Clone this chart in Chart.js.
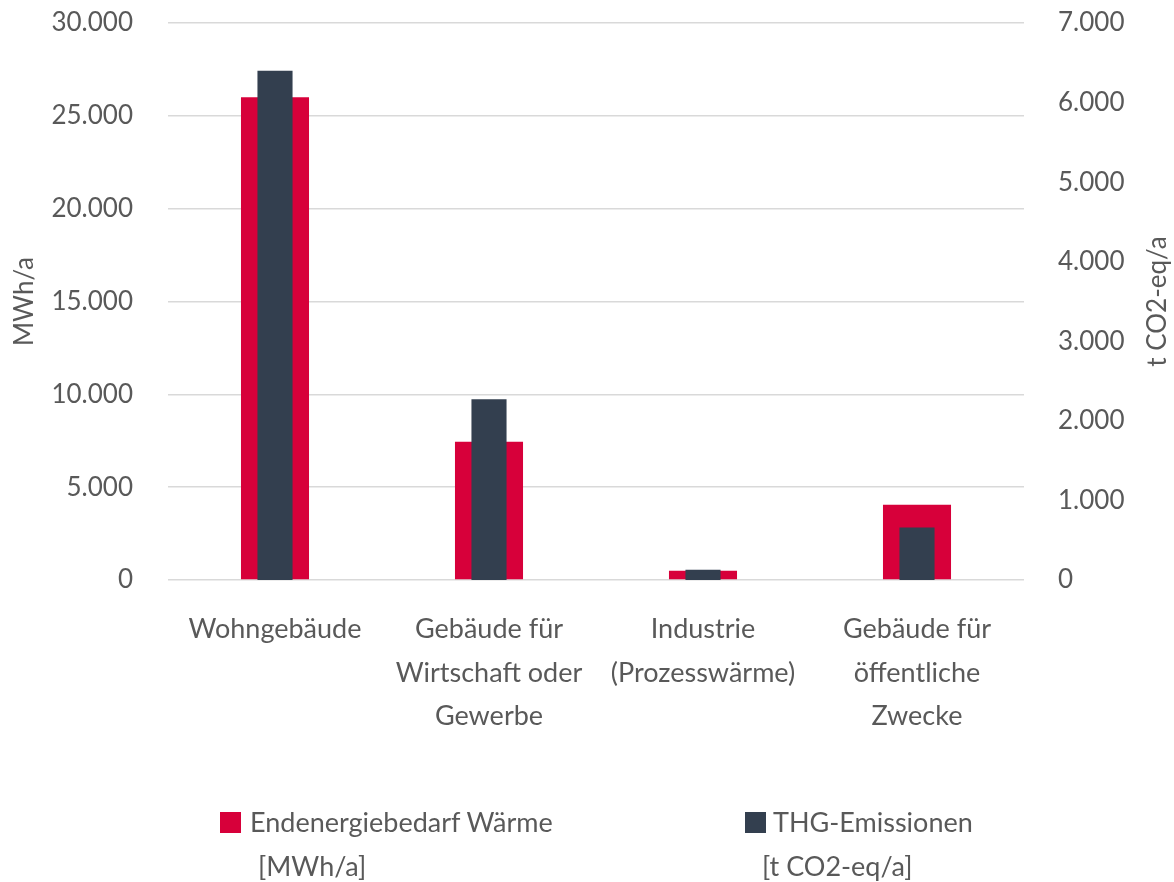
<!DOCTYPE html>
<html lang="de">
<head>
<meta charset="utf-8">
<script src="https://cdn.jsdelivr.net/npm/chart.js@4/dist/chart.umd.min.js"></script>
<style>
  html, body { margin: 0; padding: 0; background: #fff; }
  #wrap { position: relative; width: 1174px; height: 882px; }
  canvas { position: absolute; left: 0; top: 0; }
  .lg { position: absolute; font-family: Lato, sans-serif; font-size: 27px; color: #595959; white-space: nowrap; line-height: 1; }
  .sw { position: absolute; width: 21px; height: 21px; }
</style>
</head>
<body>
<div id="wrap">
  <canvas id="c" width="1174" height="882"></canvas>
  <div class="sw" id="sw0" style="left:220px; top:812px;"></div>
  <div class="lg" id="lg0a" style="left:250px; top:808px;"></div>
  <div class="lg" id="lg0b" style="left:258px; top:852px;"></div>
  <div class="sw" id="sw1" style="left:745px; top:812px;"></div>
  <div class="lg" id="lg1a" style="left:773px; top:808px;"></div>
  <div class="lg" id="lg1b" style="left:762px; top:852px;"></div>
</div>
<script>
// Sectors (multi-line axis labels)
const categories = [
  ['Wohngebäude'],
  ['Gebäude für', 'Wirtschaft oder', 'Gewerbe'],
  ['Industrie', '(Prozesswärme)'],
  ['Gebäude für', 'öffentliche', 'Zwecke']
];

// Final energy demand for heat, MWh/a (left axis)
const heatDemand = [26000, 7450, 500, 4050];
// Greenhouse gas emissions, t CO2-eq/a (right axis)
const emissions = [6400, 2270, 130, 660];

const heatLegend = ['Endenergiebedarf Wärme', '[MWh/a]'];
const emissionLegend = ['THG-Emissionen', '[t CO2-eq/a]'];

const leftTitle = 'MWh/a';
const rightTitle = 't CO2-eq/a';

const leftTicks = { min: 0, max: 30000, step: 5000 };
const rightTicks = { min: 0, max: 7000, step: 1000 };

const RED = '#D7003A';
const DARK = '#333F4F';
const TEXT = '#595959';
const FONT = 'Lato, sans-serif';

// German number format: 25.000
const de = v => String(Math.round(v)).replace(/\B(?=(\d{3})+(?!\d))/g, '.');

// Both axis titles read bottom-to-top
const axisTitles = {
  id: 'axisTitles',
  afterDraw(chart) {
    const { ctx, chartArea } = chart;
    const cy = (chartArea.top + chartArea.bottom) / 2;
    ctx.save();
    ctx.fillStyle = TEXT;
    ctx.font = '26px ' + FONT;
    ctx.textAlign = 'center';
    ctx.textBaseline = 'middle';
    [[25, leftTitle], [1158, rightTitle]].forEach(([x, t]) => {
      ctx.save();
      ctx.translate(x, cy);
      ctx.rotate(-Math.PI / 2);
      ctx.fillText(t, 0, 0);
      ctx.restore();
    });
    ctx.restore();
  }
};

// Fixed side widths; no extra top/bottom padding from tick labels
const fitY = width => s => {
  s.width = width;
  s.paddingTop = 0;
  s.paddingBottom = 0;
};

new Chart(document.getElementById('c'), {
  type: 'bar',
  data: {
    labels: categories,
    datasets: [
      {
        label: heatLegend.join(' '),
        data: heatDemand,
        backgroundColor: RED,
        yAxisID: 'yLeft',
        barPercentage: 0.318,
        categoryPercentage: 1,
        grouped: false,
        order: 1
      },
      {
        label: emissionLegend.join(' '),
        data: emissions,
        backgroundColor: DARK,
        yAxisID: 'yRight',
        barPercentage: 0.164,
        categoryPercentage: 1,
        grouped: false,
        order: 0
      }
    ]
  },
  plugins: [axisTitles],
  options: {
    responsive: false,
    animation: false,
    devicePixelRatio: 1,
    layout: { padding: { top: 23, left: 0, right: 0, bottom: 0 } },
    plugins: {
      legend: { display: false },
      tooltip: { enabled: false }
    },
    scales: {
      x: {
        grid: { display: false, drawTicks: false },
        border: { display: false },
        ticks: {
          color: TEXT,
          font: { family: FONT, size: 27, lineHeight: 1.61 },
          padding: 28,
          maxRotation: 0,
          autoSkip: false
        },
        afterFit: s => { s.height = 302; s.paddingLeft = 0; s.paddingRight = 0; }
      },
      yLeft: {
        position: 'left',
        min: leftTicks.min,
        max: leftTicks.max,
        grid: { color: '#D9D9D9', lineWidth: 1.5, drawTicks: false },
        border: { display: false },
        ticks: {
          stepSize: leftTicks.step,
          color: TEXT,
          font: { family: FONT, size: 26 },
          padding: 35,
          callback: v => de(v)
        },
        afterFit: fitY(168)
      },
      yRight: {
        position: 'right',
        min: rightTicks.min,
        max: rightTicks.max,
        grid: { display: false, drawTicks: false },
        border: { display: false },
        ticks: {
          stepSize: rightTicks.step,
          color: TEXT,
          font: { family: FONT, size: 26 },
          padding: 34,
          callback: v => de(v)
        },
        afterFit: fitY(150)
      }
    }
  }
});

// Legend below the plot
document.getElementById('sw0').style.background = RED;
document.getElementById('sw1').style.background = DARK;
document.getElementById('lg0a').textContent = heatLegend[0];
document.getElementById('lg0b').textContent = heatLegend[1];
document.getElementById('lg1a').textContent = emissionLegend[0];
document.getElementById('lg1b').textContent = emissionLegend[1];
</script>
</body>
</html>
